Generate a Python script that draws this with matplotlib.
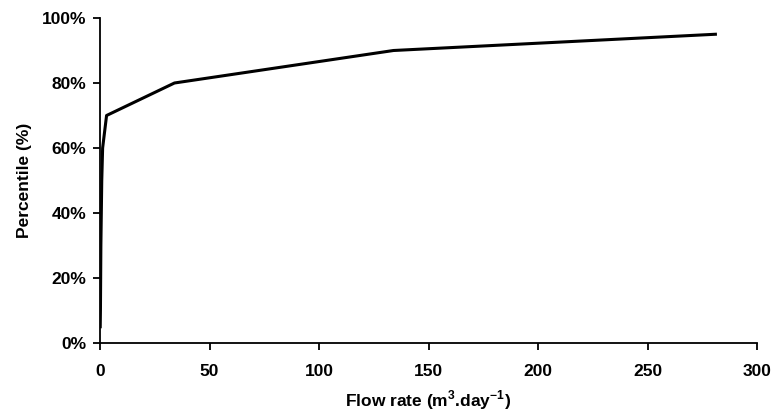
import matplotlib
matplotlib.use('Agg')
import matplotlib.pyplot as plt
from matplotlib.ticker import PercentFormatter

# flow rate (m3/day) vs percentile
flow = [0.1, 0.2, 0.3, 0.4, 0.6, 0.8, 1.2, 3.0, 34.0, 134.0, 281.0]
pct = [5, 10, 20, 30, 40, 50, 60, 70, 80, 90, 95]

plt.rcParams['font.family'] = ['Liberation Sans', 'DejaVu Sans']
plt.rcParams['font.weight'] = 'bold'
plt.rcParams['mathtext.fontset'] = 'custom'
plt.rcParams['mathtext.bf'] = 'Liberation Sans:bold'
plt.rcParams['mathtext.rm'] = 'Liberation Sans:bold'

fig = plt.figure(figsize=(7.73, 4.13), dpi=100)
ax = fig.add_axes([100 / 773, 70 / 413, 657 / 773, 325 / 413])

ax.plot(flow, pct, color='black', lw=2.2)

ax.set_xlim(0, 300)
ax.set_ylim(0, 100)
ax.set_xticks(range(0, 301, 50))
ax.set_yticks(range(0, 101, 20))
ax.yaxis.set_major_formatter(PercentFormatter(decimals=0))

for s in ['top', 'right']:
    ax.spines[s].set_visible(False)
for s in ['left', 'bottom']:
    ax.spines[s].set_linewidth(1.3)
ax.tick_params(direction='out', length=5, width=1.3, labelsize=12.5, pad=5)
ax.tick_params(axis='x', pad=10)
for lbl in ax.get_xticklabels() + ax.get_yticklabels():
    lbl.set_fontweight('bold')

ax.set_xlabel('Flow rate (m$^{\\mathbf{3}}$.day$^{\\mathbf{-1}}$)', fontsize=12.5, fontweight='bold')
ax.xaxis.set_label_coords(0.5, -0.14)
ax.set_ylabel('Percentile (%)', fontsize=12.5, fontweight='bold', labelpad=7)

plt.savefig('out.png', dpi=100)
